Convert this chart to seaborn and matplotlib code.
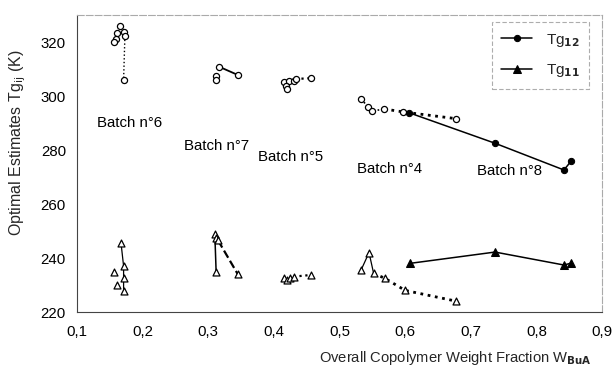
import matplotlib
matplotlib.use("Agg")
import matplotlib.pyplot as plt
import seaborn as sns
import pandas as pd

sns.set_style("white")
plt.rcParams["font.family"] = ["Liberation Sans", "DejaVu Sans"]

# ---------------- data ----------------
# upper group: Tg12 estimates, open circles
b6_up_x = [0.166, 0.161, 0.172, 0.173, 0.160, 0.157, 0.171]
b6_up_y = [325.9, 323.2, 323.8, 322.2, 321.0, 319.9, 306.0]
b7_up_x = [0.316, 0.312, 0.312, 0.345]
b7_up_y = [310.9, 307.4, 305.9, 307.8]
b5_up_x = [0.415, 0.423, 0.418, 0.420, 0.430, 0.433, 0.456]
b5_up_y = [305.3, 305.6, 303.7, 302.5, 305.7, 306.3, 306.6]
b4_up_x = [0.533, 0.543, 0.550, 0.568, 0.597, 0.678]
b4_up_y = [299.0, 296.0, 294.4, 295.2, 294.1, 291.6]

# lower group: Tg11 estimates, open triangles
b6_lo_x = [0.167, 0.171, 0.171, 0.171, 0.157, 0.161]
b6_lo_y = [245.7, 237.0, 232.5, 227.9, 234.9, 230.0]
b7_lo_x = [0.310, 0.312, 0.315, 0.312, 0.345]
b7_lo_y = [249.0, 247.5, 246.5, 234.9, 234.0]
b5_lo_x = [0.415, 0.420, 0.425, 0.430, 0.456]
b5_lo_y = [232.5, 231.9, 232.5, 233.1, 233.7]
b4_lo_x = [0.533, 0.545, 0.552, 0.569, 0.600, 0.678]
b4_lo_y = [235.6, 242.0, 234.3, 232.5, 228.0, 224.0]

# batch n°8 final estimates (filled)
tg12_x = [0.606, 0.737, 0.842, 0.853]
tg12_y = [293.8, 282.5, 272.6, 275.9]
tg11_x = [0.607, 0.737, 0.842, 0.853]
tg11_y = [238.0, 242.2, 237.4, 238.1]

batch_labels = ["Batch n°6", "Batch n°7", "Batch n°5", "Batch n°4", "Batch n°8"]
batch_lab_x = [0.130, 0.263, 0.376, 0.527, 0.710]
batch_lab_y = [290.0, 281.5, 277.3, 272.8, 272.3]

x_ticks = [0.1, 0.2, 0.3, 0.4, 0.5, 0.6, 0.7, 0.8, 0.9]
x_tick_labels = ["0,1", "0,2", "0,3", "0,4", "0,5", "0,6", "0,7", "0,8", "0,9"]
y_ticks = [220, 240, 260, 280, 300, 320]

# ---------------- figure ----------------
fig = plt.figure(figsize=(6.14, 3.68), dpi=100)
ax = fig.add_axes([77 / 614, 56 / 368, 525 / 614, 297 / 368])


def seg(xs, ys, idx, ls, lw=1.0):
    d = pd.DataFrame({"x": [xs[i] for i in idx], "y": [ys[i] for i in idx]})
    sns.lineplot(data=d, x="x", y="y", sort=False, estimator=None, ax=ax,
                 color="black", linestyle=ls, linewidth=lw, zorder=2)


def pts(xs, ys, marker, size):
    d = pd.DataFrame({"x": xs, "y": ys})
    sns.scatterplot(data=d, x="x", y="y", ax=ax, marker=marker, s=size ** 2,
                    facecolor="white", edgecolor="black", linewidth=0.9, zorder=3)


# line segments (upper)
seg(b6_up_x, b6_up_y, [3, 6], ":", 1.0)
seg(b7_up_x, b7_up_y, [0, 3], "-", 1.3)
seg(b5_up_x, b5_up_y, [5, 6], ":", 1.6)
seg(b4_up_x, b4_up_y, [0, 1, 2, 3], ":", 1.2)
seg(b4_up_x + [tg12_x[0]], b4_up_y + [tg12_y[0]], [3, 4, 6, 5], ":", 2.0)

# line segments (lower)
seg(b6_lo_x, b6_lo_y, [0, 1, 2, 3], "-", 0.9)
seg(b7_lo_x, b7_lo_y, [0, 3], "-", 1.1)
seg(b7_lo_x, b7_lo_y, [2, 4], "--", 1.6)
seg(b5_lo_x, b5_lo_y, [3, 4], ":", 1.6)
seg(b4_lo_x, b4_lo_y, [0, 1, 2], "-", 0.9)
seg(b4_lo_x, b4_lo_y, [2, 3, 4, 5], ":", 2.0)

# filled series
sns.lineplot(x=tg12_x, y=tg12_y, sort=False, estimator=None, ax=ax, color="black",
             linewidth=1.1, marker="o", markersize=4.5, markeredgecolor="black",
             label="Tg$_{\\mathbf{12}}$", zorder=4)
sns.lineplot(x=tg11_x, y=tg11_y, sort=False, estimator=None, ax=ax, color="black",
             linewidth=1.1, marker="^", markersize=5.5, markeredgecolor="black",
             label="Tg$_{\\mathbf{11}}$", zorder=4)

# open markers
for xs, ys in [(b6_up_x, b6_up_y), (b7_up_x, b7_up_y), (b5_up_x, b5_up_y), (b4_up_x, b4_up_y)]:
    pts(xs, ys, "o", 4.4)
for xs, ys in [(b6_lo_x, b6_lo_y), (b7_lo_x, b7_lo_y), (b5_lo_x, b5_lo_y), (b4_lo_x, b4_lo_y)]:
    pts(xs, ys, "^", 5.0)

for t, x, y in zip(batch_labels, batch_lab_x, batch_lab_y):
    ax.text(x, y, t, fontsize=10.8, ha="left", va="center", color="black")

ax.set_xlim(0.1, 0.9)
ax.set_ylim(220, 330)
ax.set_xticks(x_ticks)
ax.set_xticklabels(x_tick_labels)
ax.set_yticks(y_ticks)
ax.tick_params(axis="both", labelsize=10.8, colors="black")
ax.tick_params(axis="y", direction="inout", length=6, width=0.6, color="#555555", pad=5)
ax.tick_params(axis="x", direction="inout", length=0, pad=9)
ax.set_xlabel("Overall Copolymer Weight Fraction W$_{\\mathbf{BuA}}$", fontsize=10.6)
ax.xaxis.set_label_coords(0.72, -0.125)
ax.set_ylabel("Optimal Estimates Tg$_{\\mathrm{ij}}$ (K)", fontsize=11.5)
ax.yaxis.set_label_coords(-0.093, 0.57)

for s in ["top", "right"]:
    ax.spines[s].set_color("#aaaaaa")
    ax.spines[s].set_linewidth(0.8)
    ax.spines[s].set_linestyle((0, (6, 2)))
for s in ["left", "bottom"]:
    ax.spines[s].set_color("#444444")
    ax.spines[s].set_linewidth(0.8)

leg = ax.legend(loc="upper right", bbox_to_anchor=(0.975, 0.975), fontsize=11,
                frameon=True, fancybox=False, handlelength=2.0, borderpad=0.6,
                labelspacing=0.9, handletextpad=0.9, borderaxespad=0.0)
leg.get_frame().set_edgecolor("#999999")
leg.get_frame().set_linewidth(0.8)
leg.get_frame().set_linestyle((0, (4, 2)))

fig.savefig("out.png", dpi=100)
